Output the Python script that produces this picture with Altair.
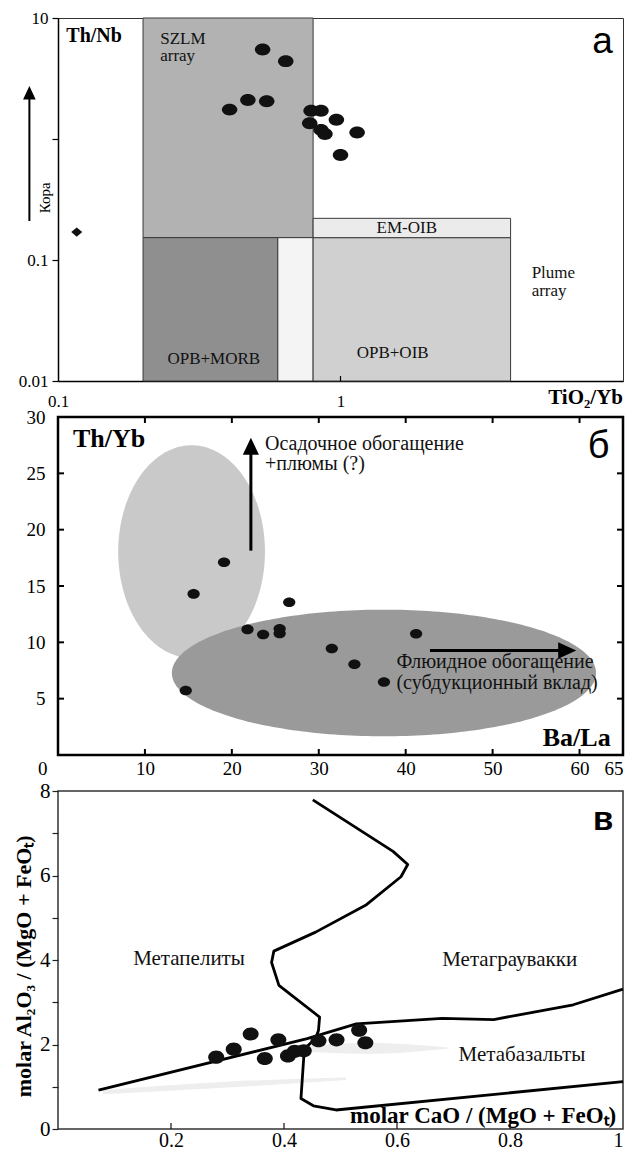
import altair as alt
import numpy as np
import pandas as pd

# ---------------- layout / style ----------------
W = 565
HA, HB, HC = 363, 338, 338
SERIF = "Liberation Serif, Times New Roman, serif"
SANS = "Liberation Sans, Arial, sans-serif"
ELL_A = "M-1,0A1,0.77,0,1,1,1,0A1,0.77,0,1,1,-1,0Z"
ELL_B = "M-1,0A1,0.78,0,1,1,1,0A1,0.78,0,1,1,-1,0Z"
ELL_C = "M-1,0A1,0.82,0,1,1,1,0A1,0.82,0,1,1,-1,0Z"
DIAM = "M0,-0.85L1,0L0,0.85L-1,0Z"
TRI_UP = "M0,-1L0.95,1L-0.95,1Z"
TRI_RIGHT = "M1,0L-1,0.92L-1,-0.92Z"

# ---------------- panel а data ----------------
a_tio2_yb = [0.53, 0.64, 0.405, 0.47, 0.548, 0.787, 0.853, 0.967, 0.778, 0.853, 0.881, 1.145, 1.0]
a_th_nb = [5.5, 4.4, 1.75, 2.1, 2.05, 1.71, 1.71, 1.44, 1.35, 1.19, 1.10, 1.13, 0.737]
a_ref_x = [0.1165]
a_ref_y = [0.170]

reg_x1 = [0.2, 0.2, 0.6, 0.8, 0.8]
reg_x2 = [0.8, 0.6, 0.8, 4.0, 4.0]
reg_y1 = [0.153, 0.01, 0.01, 0.01, 0.153]
reg_y2 = [10, 0.153, 0.153, 0.153, 0.221]
reg_fill = ["#b2b2b2", "#8f8f8f", "#f4f4f4", "#d0d0d0", "#ebebeb"]

a_lab_left_t = ["SZLM\narray", "Plume\narray"]
a_lab_left_x = [0.230, 4.75]
a_lab_left_y = [6.1, 0.0708]
a_lab_center_t = ["EM-OIB", "OPB+MORB", "OPB+OIB"]
a_lab_center_x = [1.717, 0.356, 1.53]
a_lab_center_y = [0.166, 0.0138, 0.0155]

# ---------------- panel б data ----------------
b_ba_la = [19.1, 15.6, 26.6, 21.8, 23.6, 25.5, 25.5, 41.2, 31.5, 34.1, 37.5, 14.7]
b_th_yb = [17.1, 14.3, 13.55, 11.15, 10.7, 11.2, 10.78, 10.77, 9.46, 8.05, 6.48, 5.72]
# ellipses: centre x, centre y, radius x, radius y
ell_light = [15.37, 18.05, 8.44, 9.44]
ell_dark = [37.5, 7.28, 24.4, 5.62]

# ---------------- panel в data ----------------
c_cao = [0.280, 0.311, 0.341, 0.366, 0.390, 0.407, 0.419, 0.435, 0.461, 0.493, 0.533, 0.544]
c_al2o3 = [1.70, 1.89, 2.25, 1.67, 2.11, 1.73, 1.84, 1.85, 2.09, 2.11, 2.34, 2.04]
lineA_x = [0.451, 0.593, 0.619, 0.607, 0.546, 0.456, 0.382, 0.378, 0.391, 0.463, 0.461, 0.456, 0.436, 0.430, 0.452, 0.492, 1.0]
lineA_y = [7.79, 6.57, 6.26, 5.97, 5.31, 4.66, 4.21, 3.94, 3.40, 2.65, 2.33, 2.14, 1.90, 0.72, 0.55, 0.45, 1.12]
lineB_x = [0.0717, 0.441, 0.528, 0.680, 0.771, 0.912, 1.0]
lineB_y = [0.92, 2.14, 2.49, 2.62, 2.59, 2.94, 3.31]
streak1_x = [0.08, 0.30, 0.51]
streak1_y = [0.82, 0.98, 1.16]
streak1_y2 = [0.92, 1.12, 1.22]
streak2_x = [0.40, 0.55, 0.69]
streak2_y = [1.86, 1.78, 1.90]
streak2_y2 = [1.90, 2.04, 1.93]


def one(**kw):
    return pd.DataFrame({k: [v] for k, v in kw.items()})


# ================= PANEL а =================
xa_scale = alt.Scale(type="log", domain=[0.1, 10], nice=False)
ya_scale = alt.Scale(type="log", domain=[0.01, 10], nice=False)
xa_axis = alt.Axis(values=[0.1, 1, 10],
                   labelExpr="datum.value < 0.5 ? '0.1' : (datum.value < 5 ? '1' : '')",
                   ticks=False, domain=True, domainColor="black", domainWidth=1.5,
                   grid=False, title=None, labelFont=SERIF, labelFontSize=17,
                   labelColor="black", labelPadding=12, labelFlush=False, labelOverlap=False)
ya_axis = alt.Axis(values=[0.01, 0.1, 1, 10],
                   labelExpr="datum.value < 0.05 ? '0.01' : (datum.value < 0.5 ? '0.1' : (datum.value < 5 ? '' : '10'))",
                   ticks=True, tickSize=6, tickColor="black", tickWidth=1.2,
                   domain=True, domainColor="black", domainWidth=1.5, grid=False, title=None,
                   labelFont=SERIF, labelFontSize=17, labelColor="black", labelPadding=4,
                   labelFlush=False, labelOverlap=False)


def AX(f="x"):
    return alt.X(f"{f}:Q", scale=xa_scale, axis=xa_axis)


def AY(f="y"):
    return alt.Y(f"{f}:Q", scale=ya_scale, axis=ya_axis)


a_regions = pd.DataFrame({"x": reg_x1, "x2": reg_x2, "y": reg_y1, "y2": reg_y2, "fill": reg_fill})
a_rect = alt.Chart(a_regions).mark_rect(stroke="#3a3a3a", strokeWidth=1).encode(
    x=AX(), x2="x2:Q", y=AY(), y2="y2:Q", color=alt.Color("fill:N", scale=None))

a_txt_left = alt.Chart(pd.DataFrame({"x": a_lab_left_x, "y": a_lab_left_y, "t": a_lab_left_t})).mark_text(
    font=SERIF, fontSize=17, align="left", baseline="alphabetic", lineBreak="\n", lineHeight=17.5,
    color="#111").encode(x=AX(), y=AY(), text="t:N")
a_txt_center = alt.Chart(pd.DataFrame({"x": a_lab_center_x, "y": a_lab_center_y, "t": a_lab_center_t})).mark_text(
    font=SERIF, fontSize=17, align="center", baseline="alphabetic", color="#111").encode(
    x=AX(), y=AY(), text="t:N")

a_title_y = alt.Chart(one(x=0.107, y=7.06, t="Th/Nb")).mark_text(
    font=SERIF, fontSize=20, fontWeight="bold", align="left", baseline="middle", color="black").encode(
    x=AX(), y=AY(), text="t:N")
a_title_x = alt.Chart(one(x=10, y=0.00724, t="TiO₂/Yb")).mark_text(
    font=SERIF, fontSize=21, fontWeight="bold", align="right", baseline="middle", color="black").encode(
    x=AX(), y=AY(), text="t:N")
a_letter = alt.Chart(one(x=8.46, y=5.12, t="а")).mark_text(
    font=SANS, fontSize=37, align="center", baseline="alphabetic", color="black").encode(
    x=AX(), y=AY(), text="t:N")
a_kora = alt.Chart(one(x=0.0896, y=0.327, t="Кора")).mark_text(
    font=SERIF, fontSize=15, angle=270, align="center", baseline="middle", color="black").encode(
    x=AX(), y=AY(), text="t:N")
a_arrow = alt.Chart(one(x=0.0792, y=0.21, y2=2.3)).mark_rule(color="black", strokeWidth=2).encode(
    x=AX(), y=AY(), y2="y2:Q")
a_head = alt.Chart(one(x=0.0792, y=2.41)).mark_point(
    shape=TRI_UP, size=177, filled=True, opacity=1, color="black").encode(x=AX(), y=AY())
a_tick = alt.Chart(pd.DataFrame({"x": [1]})).mark_rule(color="black", strokeWidth=1.2).encode(
    x=AX(), y=alt.value(HA), y2=alt.value(HA - 5))
a_pts = alt.Chart(pd.DataFrame({"x": a_tio2_yb, "y": a_th_nb})).mark_point(
    shape=ELL_A, size=240, filled=True, opacity=1, color="#111").encode(x=AX(), y=AY())
a_ref = alt.Chart(pd.DataFrame({"x": a_ref_x, "y": a_ref_y})).mark_point(
    shape=DIAM, size=121, filled=True, opacity=1, color="#111").encode(x=AX(), y=AY())

chart_a = alt.layer(a_rect, a_txt_left, a_txt_center, a_title_y, a_title_x, a_letter, a_kora,
                    a_arrow, a_head, a_tick, a_pts, a_ref).properties(
    width=W, height=HA, view=alt.ViewBackground(stroke="#333333", strokeWidth=1))

# ================= PANEL б =================
xb_scale = alt.Scale(domain=[0, 65], nice=False, zero=False)
yb_scale = alt.Scale(domain=[0, 30], nice=False, zero=False)
xb_axis = alt.Axis(values=[10, 20, 30, 40, 50, 60, 65], format="d", ticks=False, domain=False,
                   grid=False, title=None, labelFont=SERIF, labelFontSize=19, labelColor="black",
                   labelPadding=4, labelFlush=True, labelOverlap=False)
yb_axis = alt.Axis(values=[5, 10, 15, 20, 25, 30], format="d", ticks=False, domain=False,
                   grid=False, title=None, labelFont=SERIF, labelFontSize=19, labelColor="black",
                   labelPadding=13, labelFlush=False, labelOverlap=False)


def BX(f="x"):
    return alt.X(f"{f}:Q", scale=xb_scale, axis=xb_axis)


def BY(f="y"):
    return alt.Y(f"{f}:Q", scale=yb_scale, axis=yb_axis)


def ellipse_df(p):
    cx, cy, rx, ry = p
    th = np.linspace(0, np.pi, 121)
    return pd.DataFrame({"x": cx - rx * np.cos(th), "y": cy - ry * np.sin(th), "y2": cy + ry * np.sin(th)})


b_ell1 = alt.Chart(ellipse_df(ell_light)).mark_area(color="#c9c9c9", orient="vertical", opacity=1).encode(
    x=BX(), y=BY(), y2="y2:Q")
b_ell2 = alt.Chart(ellipse_df(ell_dark)).mark_area(color="#9a9a9a", orient="vertical", opacity=1).encode(
    x=BX(), y=BY(), y2="y2:Q")

b_ticks_x = pd.DataFrame({"x": [10, 20, 30, 40, 50, 60]})
b_ticks_y = pd.DataFrame({"y": [5, 10, 15, 20, 25]})
b_tb = alt.Chart(b_ticks_x).mark_rule(color="black", strokeWidth=2).encode(
    x=BX(), y=alt.value(HB), y2=alt.value(HB - 6))
b_tt = alt.Chart(b_ticks_x).mark_rule(color="black", strokeWidth=2).encode(
    x=BX(), y=alt.value(0), y2=alt.value(6))
b_tl = alt.Chart(b_ticks_y).mark_rule(color="black", strokeWidth=2).encode(
    y=BY(), x=alt.value(0), x2=alt.value(6))
b_tr = alt.Chart(b_ticks_y).mark_rule(color="black", strokeWidth=2).encode(
    y=BY(), x=alt.value(W - 6), x2=alt.value(W))

b_arrow_v = alt.Chart(one(x=22.19, y=18.14, y2=27.0)).mark_rule(color="black", strokeWidth=3).encode(
    x=BX(), y=BY(), y2="y2:Q")
b_head_v = alt.Chart(one(x=22.19, y=27.4)).mark_point(
    shape=TRI_UP, size=289, filled=True, opacity=1, color="black").encode(x=BX(), y=BY())
b_arrow_h = alt.Chart(one(x=42.79, x2=58.0, y=9.27)).mark_rule(color="black", strokeWidth=3).encode(
    x=BX(), x2="x2:Q", y=BY())
b_head_h = alt.Chart(one(x=58.58, y=9.27)).mark_point(
    shape=TRI_RIGHT, size=324, filled=True, opacity=1, color="black").encode(x=BX(), y=BY())

b_txt1a = alt.Chart(one(x=23.81, y=27.1, t="Осадочное обогащение")).mark_text(
    font=SERIF, fontSize=20, align="left", baseline="alphabetic", color="#111").encode(
    x=BX(), y=BY(), text="t:N")
b_txt1b = alt.Chart(one(x=23.81, y=25.3, t="+плюмы (?)")).mark_text(
    font=SERIF, fontSize=20, align="left", baseline="alphabetic", color="#111").encode(
    x=BX(), y=BY(), text="t:N")
b_txt2a = alt.Chart(one(x=38.93, y=7.70, t="Флюидное обогащение")).mark_text(
    font=SERIF, fontSize=20, align="left", baseline="alphabetic", color="#111").encode(
    x=BX(), y=BY(), text="t:N")
b_txt2b = alt.Chart(one(x=38.93, y=5.90, t="(субдукционный вклад)")).mark_text(
    font=SERIF, fontSize=20, align="left", baseline="alphabetic", color="#111").encode(
    x=BX(), y=BY(), text="t:N")
b_ty = alt.Chart(one(x=1.72, y=27.31, t="Th/Yb")).mark_text(
    font=SERIF, fontSize=26, fontWeight="bold", align="left", baseline="alphabetic", color="black").encode(
    x=BX(), y=BY(), text="t:N")
b_tx = alt.Chart(one(x=63.58, y=0.83, t="Ba/La")).mark_text(
    font=SERIF, fontSize=26, fontWeight="bold", align="right", baseline="alphabetic", color="black").encode(
    x=BX(), y=BY(), text="t:N")
b_letter = alt.Chart(one(x=62.19, y=26.36, t="б")).mark_text(
    font=SANS, fontSize=38, align="center", baseline="alphabetic", color="black").encode(
    x=BX(), y=BY(), text="t:N")
b_zero = alt.Chart(one(x=-1.76, y=-1.27, t="0")).mark_text(
    font=SERIF, fontSize=19, align="center", baseline="middle", color="black").encode(
    x=BX(), y=BY(), text="t:N")
b_pts = alt.Chart(pd.DataFrame({"x": b_ba_la, "y": b_th_yb})).mark_point(
    shape=ELL_B, size=150, filled=True, opacity=1, color="#111").encode(x=BX(), y=BY())

chart_b = alt.layer(b_ell1, b_ell2, b_tb, b_tt, b_tl, b_tr, b_arrow_v, b_head_v, b_arrow_h, b_head_h,
                    b_txt1a, b_txt1b, b_txt2a, b_txt2b, b_ty, b_tx, b_letter, b_zero, b_pts).properties(
    width=W, height=HB, view=alt.ViewBackground(stroke="black", strokeWidth=2.5))

# ================= PANEL в =================
xc_scale = alt.Scale(domain=[0, 1], nice=False, zero=False)
yc_scale = alt.Scale(domain=[0, 8], nice=False, zero=False)
xc_axis = alt.Axis(values=[0.2, 0.4, 0.6, 0.8, 1],
                   labelExpr="datum.value > 0.99 ? '1' : format(datum.value, '.1f')",
                   ticks=False, domain=False, grid=False, title=None, labelFont=SERIF,
                   labelFontSize=20, labelColor="black", labelPadding=1, labelFlush=True,
                   labelOverlap=False)
yc_axis = alt.Axis(values=[0, 1, 2, 3, 4, 5, 6, 7, 8],
                   labelExpr="datum.value % 2 == 0 ? format(datum.value, 'd') : ''",
                   ticks=True, tickSize=6, tickColor="#222", tickWidth=1.2, domain=False, grid=False,
                   title=None, labelFont=SERIF, labelFontSize=21, labelColor="black", labelPadding=2,
                   labelFlush=False, labelOverlap=False)


def CX(f="x"):
    return alt.X(f"{f}:Q", scale=xc_scale, axis=xc_axis)


def CY(f="y"):
    return alt.Y(f"{f}:Q", scale=yc_scale, axis=yc_axis)


c_s1 = alt.Chart(pd.DataFrame({"x": streak1_x, "y": streak1_y, "y2": streak1_y2})).mark_area(
    color="#eeeeee", orient="vertical", interpolate="monotone").encode(x=CX(), y=CY(), y2="y2:Q")
c_s2 = alt.Chart(pd.DataFrame({"x": streak2_x, "y": streak2_y, "y2": streak2_y2})).mark_area(
    color="#eeeeee", orient="vertical", interpolate="monotone").encode(x=CX(), y=CY(), y2="y2:Q")

lines_df = pd.concat([
    pd.DataFrame({"x": lineA_x, "y": lineA_y, "k": "A", "o": range(len(lineA_x))}),
    pd.DataFrame({"x": lineB_x, "y": lineB_y, "k": "B", "o": range(len(lineB_x))}),
])
c_lines = alt.Chart(lines_df).mark_line(color="black", strokeWidth=2.8, strokeJoin="round").encode(
    x=CX(), y=CY(), detail="k:N", order="o:Q")

c_ticks = alt.Chart(pd.DataFrame({"x": [0.2, 0.4, 0.6, 0.8]})).mark_rule(color="#222", strokeWidth=1.3).encode(
    x=CX(), y=alt.value(HC), y2=alt.value(HC - 6))

c_lab = alt.Chart(pd.DataFrame({"x": [0.133, 0.680, 0.709], "y": [3.88, 3.86, 1.60],
                                "t": ["Метапелиты", "Метаграувакки", "Метабазальты"]})).mark_text(
    font=SERIF, fontSize=21, align="left", baseline="alphabetic", color="#111").encode(
    x=CX(), y=CY(), text="t:N")
c_tx = alt.Chart(one(x=0.988, y=0.14, t="molar CaO / (MgO + FeOₜ)")).mark_text(
    font=SERIF, fontSize=23, fontWeight="bold", align="right", baseline="alphabetic", color="black").encode(
    x=CX(), y=CY(), text="t:N")
c_ty = alt.Chart(one(x=-0.060, y=3.85, t="molar Al₂O₃ / (MgO + FeOₜ)")).mark_text(
    font=SERIF, fontSize=22, fontWeight="bold", angle=270, align="center", baseline="middle",
    color="black").encode(x=CX(), y=CY(), text="t:N")
c_letter = alt.Chart(one(x=0.965, y=7.07, t="в")).mark_text(
    font=SANS, fontSize=33, fontWeight="bold", align="center", baseline="alphabetic", color="black").encode(
    x=CX(), y=CY(), text="t:N")
c_pts = alt.Chart(pd.DataFrame({"x": c_cao, "y": c_al2o3})).mark_point(
    shape=ELL_C, size=256, filled=True, opacity=1, color="#111").encode(x=CX(), y=CY())

chart_c = alt.layer(c_s1, c_s2, c_lines, c_ticks, c_lab, c_tx, c_ty, c_letter, c_pts).properties(
    width=W, height=HC, view=alt.ViewBackground(stroke="#333333", strokeWidth=1.5))

chart = alt.vconcat(chart_a, chart_b, chart_c, spacing=36, bounds="flush").properties(
    padding={"left": 4, "top": 0, "right": 0, "bottom": 0}
).configure(background="white")

chart.save("out.html", embed_options={"renderer": "svg", "actions": False})
